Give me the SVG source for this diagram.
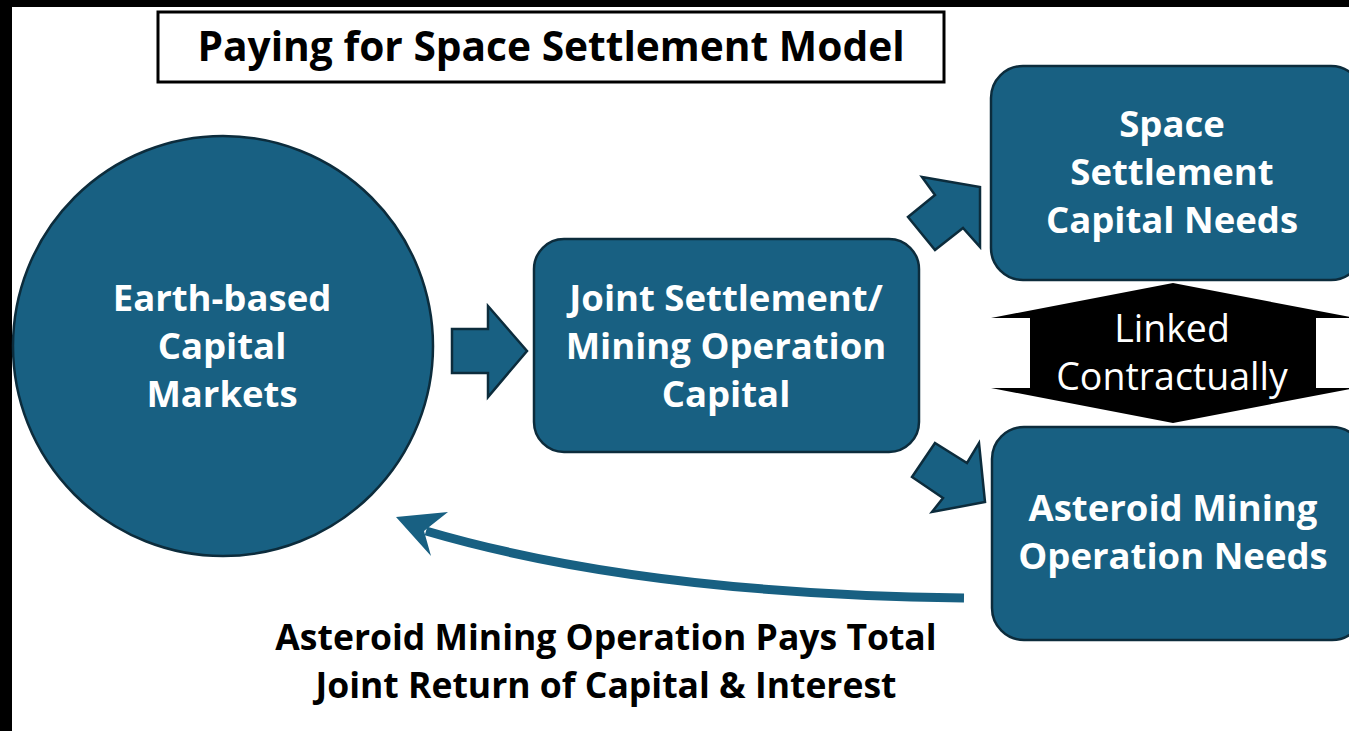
<svg xmlns="http://www.w3.org/2000/svg" width="1349" height="731" viewBox="0 0 1349 731">
<style>
.node{fill:#186082;stroke:#0c2c3c;stroke-width:2.5}
.blk{fill:#186082;stroke:#0c2c3c;stroke-width:2.5;stroke-linejoin:miter}
.wt{font-family:"Open Sans","Liberation Sans",sans-serif;font-weight:700;font-size:36.5px;fill:#ffffff;text-anchor:middle}
.bt{font-family:"Open Sans","Liberation Sans",sans-serif;font-weight:700;font-size:35.5px;fill:#000000;text-anchor:middle}
.tt{font-family:"Open Sans","Liberation Sans",sans-serif;font-weight:700;font-size:40.7px;fill:#000000;text-anchor:middle}
.lt{font-family:"Open Sans","Liberation Sans",sans-serif;font-weight:400;font-size:37.5px;fill:#ffffff;text-anchor:middle}
</style>
<rect x="0" y="0" width="1349" height="731" fill="#ffffff"/>
<rect x="0" y="0" width="1349" height="7" fill="#000000"/>
<rect x="0" y="0" width="12" height="731" fill="#000000"/>

<g id="title">
<rect x="158" y="12" width="786" height="70" fill="#ffffff" stroke="#000000" stroke-width="3"/>
<text class="tt" x="551" y="61">Paying for Space Settlement Model</text>
</g>

<g id="earth">
<circle class="node" cx="223" cy="346" r="210"/>
<text class="wt" x="222" y="311">Earth-based</text>
<text class="wt" x="222" y="359">Capital</text>
<text class="wt" x="222" y="407">Markets</text>
</g>

<g id="joint">
<rect class="node" x="534" y="239" width="385" height="213" rx="30"/>
<text class="wt" x="726" y="311">Joint Settlement/</text>
<text class="wt" x="726" y="359">Mining Operation</text>
<text class="wt" x="726" y="407">Capital</text>
</g>

<g id="space">
<rect class="node" x="991" y="66" width="372" height="214" rx="32"/>
<text class="wt" x="1172" y="137">Space</text>
<text class="wt" x="1172" y="185">Settlement</text>
<text class="wt" x="1172" y="233">Capital Needs</text>
</g>

<g id="asteroid">
<rect class="node" x="992" y="427" width="372" height="213" rx="32"/>
<text class="wt" x="1173" y="521">Asteroid Mining</text>
<text class="wt" x="1173" y="569">Operation Needs</text>
</g>

<g id="linked">
<polygon points="1173,283 1355,318 1316,318 1316,388 1355,388 1173,423 991,388 1030,388 1030,318 991,318" fill="#000000"/>
<text class="lt" x="1172" y="342">Linked</text>
<text class="lt" x="1172" y="390">Contractually</text>
</g>

<g id="connectors">
<polygon class="blk" points="452,329 488,329 488,306 527,351 488,397 488,373 452,373"/>
<polygon class="blk" points="922,177 980,187 980,247 963,228 935,250 908,217 935,195"/>
<polygon class="blk" points="935,443 967,463 979,443 985,502 932,512 943,498 912,477"/>
<path d="M964,598 C800,596 600,582 426,531" fill="none" stroke="#186082" stroke-width="9"/>
<polygon points="396,517 448,512 424,531 431,556" fill="#186082"/>
</g>

<g id="caption">
<text class="bt" x="606" y="650">Asteroid Mining Operation Pays Total</text>
<text class="bt" x="606" y="698">Joint Return of Capital &amp; Interest</text>
</g>
</svg>
